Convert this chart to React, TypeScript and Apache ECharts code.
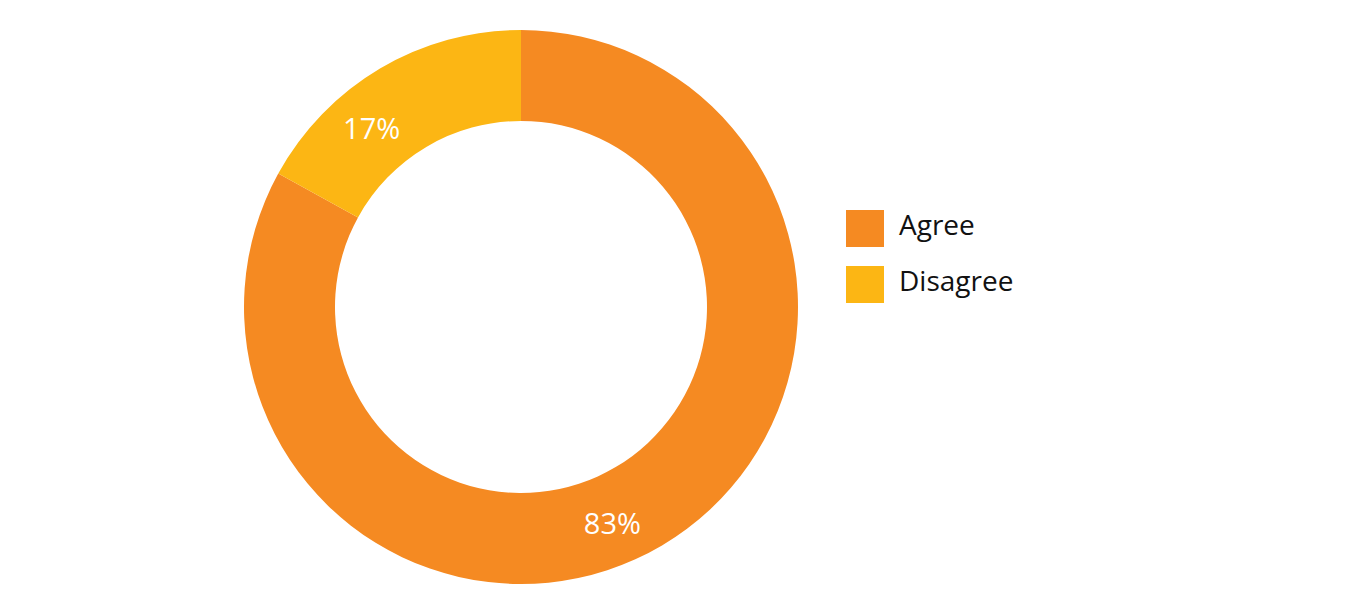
import React, { useEffect, useRef } from "react";
import * as echarts from "echarts";

const categories = ["Agree", "Disagree"];
const values = [83, 17];
const colors = ["#F58A22", "#FCB614"];
const labelOffsets = [
  [-28, 14],
  [-30, 22],
];

export default function App() {
  const ref = useRef<HTMLDivElement>(null);
  useEffect(() => {
    document.body.style.margin = "0";
    const chart = echarts.init(ref.current!, null, { renderer: "svg" });
    chart.setOption({
      animation: false,
      backgroundColor: "#ffffff",
      color: colors,
      legend: {
        orient: "vertical",
        left: 846,
        top: 210,
        padding: 0,
        itemWidth: 38,
        itemHeight: 37,
        itemGap: 19,
        icon: "rect",
        data: categories,
        formatter: "{t|{name}}",
        textStyle: {
          fontFamily: "Open Sans",
          fontSize: 28,
          color: "#111111",
          rich: {
            t: {
              fontFamily: "Open Sans",
              fontSize: 28,
              color: "#111111",
              padding: [0, 0, 9, 10],
            },
          },
        },
      },
      series: [
        {
          type: "pie",
          center: [521, 307],
          radius: [186, 277],
          startAngle: 90,
          clockwise: true,
          avoidLabelOverlap: false,
          label: {
            show: true,
            position: "inside",
            formatter: "{c}%",
            color: "#ffffff",
            fontFamily: "Open Sans",
            fontSize: 29,
          },
          labelLine: { show: false },
          labelLayout: (p: any) => ({
            dx: labelOffsets[p.dataIndex][0],
            dy: labelOffsets[p.dataIndex][1],
          }),
          emphasis: { disabled: true },
          data: categories.map((name, i) => ({ name, value: values[i] })),
        },
      ],
    });
    return () => chart.dispose();
  }, []);
  return <div ref={ref} style={{ width: 1349, height: 615 }} />;
}
